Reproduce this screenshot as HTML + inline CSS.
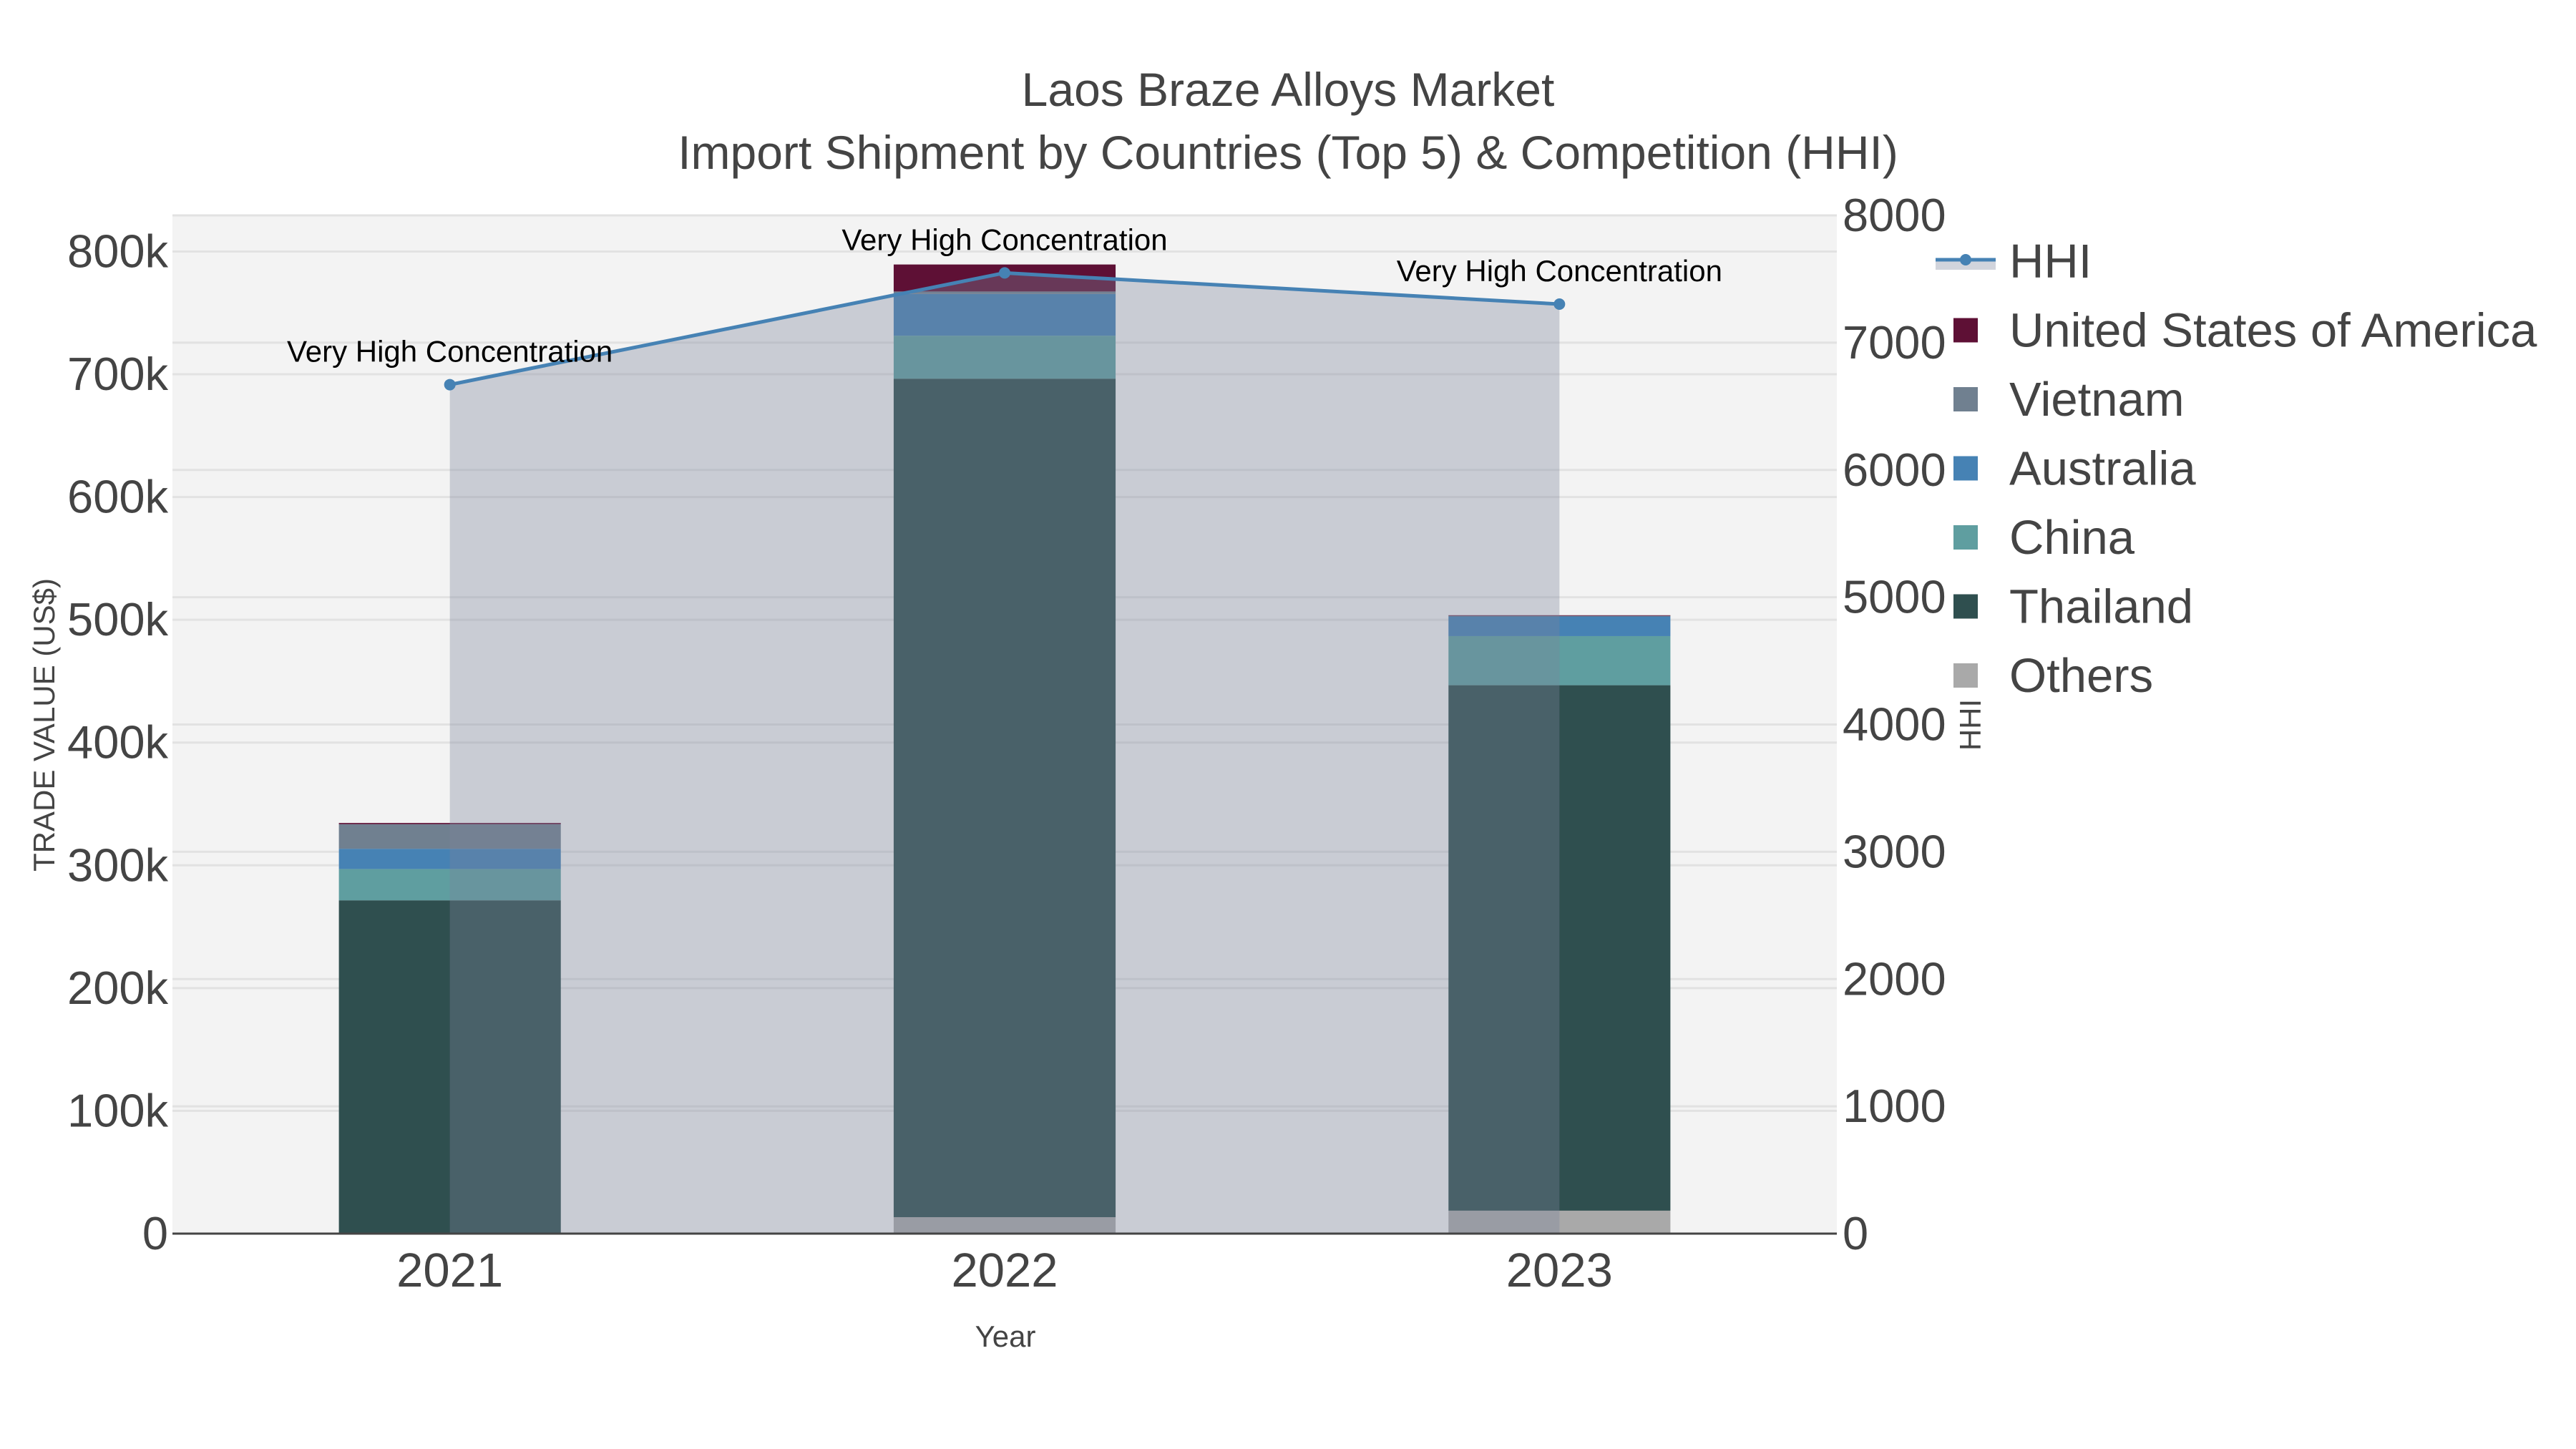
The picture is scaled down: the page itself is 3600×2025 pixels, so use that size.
<!DOCTYPE html>
<html><head><meta charset="utf-8"><style>
html,body{margin:0;padding:0;background:#fff;}
svg{display:block;font-family:"Liberation Sans",sans-serif;}
</style></head><body>
<svg id="chart" width="3600" height="2025" viewBox="0 0 3600 2025" xmlns="http://www.w3.org/2000/svg">
<rect x="0" y="0" width="3600" height="2025" fill="#fff"/>
<text x="1800" y="148" text-anchor="middle" font-size="66" fill="#444">Laos Braze Alloys Market</text>
<text x="1800" y="236" text-anchor="middle" font-size="66" fill="#444">Import Shipment by Countries (Top 5) &amp; Competition (HHI)</text>
<rect x="241" y="301" width="2326" height="1423" fill="#f3f3f3"/>
<g id="grid"></g>
<g id="bars"></g>
<g id="hhi"></g>
<g id="axes"></g>
<text transform="translate(76,1013) rotate(-90)" text-anchor="middle" font-size="42" fill="#444">TRADE VALUE (US$)</text>
<text transform="translate(2768,1013) rotate(-90)" text-anchor="middle" font-size="42" fill="#444">HHI</text>
<text x="1405" y="1882" text-anchor="middle" font-size="42" fill="#444">Year</text>
<g id="legend"></g>
</svg>
<script>
const years = ["2021","2022","2023"];
const countries = ["Others","Thailand","China","Australia","Vietnam","United States of America"];
const others = [500, 13400, 18700];
const thailand = [271000, 683000, 428000];
const china = [25500, 35000, 40000];
const australia = [16500, 34000, 16000];
const vietnam = [20000, 2000, 500];
const usa = [1000, 22000, 500];
const hhiValues = [6670, 7548, 7303];
const hhiLabels = ["Very High Concentration","Very High Concentration","Very High Concentration"];
const yTicks = [0,100000,200000,300000,400000,500000,600000,700000,800000];
const yTickLabels = ["0","100k","200k","300k","400k","500k","600k","700k","800k"];
const y2Ticks = [0,1000,2000,3000,4000,5000,6000,7000,8000];
const colors = ["#a9a9a9","#2f4f4f","#5f9ea0","#4682b4","#708090","#5e1035"];

const NS="http://www.w3.org/2000/svg";
const L=241,R=2567,T=301,B=1724;
const yMax=829400, y2Max=8000;
const catW=(R-L)/3;
const x=i=>L+catW*(i+0.5);
const y=v=>B-(v/yMax)*(B-T);
const y2=v=>B-(v/y2Max)*(B-T);
function mk(tag,attrs,parent){const e=document.createElementNS(NS,tag);for(const k in attrs)e.setAttribute(k,attrs[k]);parent.appendChild(e);return e;}
const grid=document.getElementById('grid'),bars=document.getElementById('bars'),hhi=document.getElementById('hhi'),axes=document.getElementById('axes'),legend=document.getElementById('legend');

yTicks.forEach((v,i)=>{
  if(v>0){const g=mk('line',{x1:L,x2:R,y1:y(v),y2:y(v),stroke:'#e2e2e2','stroke-width':3},grid);
  
  }
  const t=mk('text',{x:L-6,y:y(v)+22,'text-anchor':'end','font-size':65,fill:'#444'},axes);t.textContent=yTickLabels[i];
  
  
});
y2Ticks.forEach(v=>{
  if(v>0){const g=mk('line',{x1:L,x2:R,y1:y2(v),y2:y2(v),stroke:'#e2e2e2','stroke-width':3},grid);
  
  }
  const t=mk('text',{x:R+8,y:y2(v)+22,'font-size':65,fill:'#444'},axes);t.textContent=String(v);
  
  
});
const zl=mk('line',{x1:L,x2:R,y1:B,y2:B,stroke:'#444','stroke-width':3},axes);


years.forEach((yr,i)=>{const t=mk('text',{x:x(i),y:B+74,'text-anchor':'middle','font-size':67,fill:'#444'},axes);t.textContent=yr;
  
  });

const series=[others,thailand,china,australia,vietnam,usa];
const bw=catW*0.4;
years.forEach((yr,i)=>{
  let base=0;
  series.forEach((s,k)=>{
    const v=s[i];
    const r=mk('rect',{x:x(i)-bw/2,y:y(base+v),width:bw,height:y(base)-y(base+v),fill:colors[k]},bars);
    
    
    base+=v;
  });
});

let d='M'+x(0)+','+B;
hhiValues.forEach((v,i)=>{d+=' L'+x(i)+','+y2(v);});
d+=' L'+x(hhiValues.length-1)+','+B+' Z';
const area=mk('path',{d:d,fill:'rgba(123,131,154,0.35)'},hhi);


const pts=hhiValues.map((v,i)=>x(i)+','+y2(v)).join(' ');
const line=mk('polyline',{points:pts,fill:'none',stroke:'#4682b4','stroke-width':5},hhi);


hhiValues.forEach((v,i)=>{
  const c=mk('circle',{cx:x(i),cy:y2(v),r:8,fill:'#4682b4'},hhi);
  
  
  const t=mk('text',{x:x(i),y:y2(v)-32,'text-anchor':'middle','font-size':42,fill:'#000'},hhi);t.textContent=hhiLabels[i];
  
  
});

const lx=2705, ly0=365, ls=96.5;
const lg0=mk('g',{},legend);


mk('rect',{x:lx,y:ly0-2,width:84,height:14,fill:'rgba(123,131,154,0.35)'},lg0);
mk('line',{x1:lx,x2:lx+84,y1:ly0-2,y2:ly0-2,stroke:'#4682b4','stroke-width':5},lg0);
mk('circle',{cx:lx+42,cy:ly0-2,r:8,fill:'#4682b4'},lg0);
mk('text',{x:2808,y:ly0+23,'font-size':67,fill:'#444'},lg0).textContent='HHI';
const order=[5,4,3,2,1,0];
order.forEach((k,j)=>{
  const yy=ly0+ls*(j+1);
  const g=mk('g',{},legend);
  
  
  mk('rect',{x:lx+25,y:yy-17,width:34,height:34,fill:colors[k]},g);
  mk('text',{x:2808,y:yy+23,'font-size':67,fill:'#444'},g).textContent=countries[k];
});
</script>
</body></html>
